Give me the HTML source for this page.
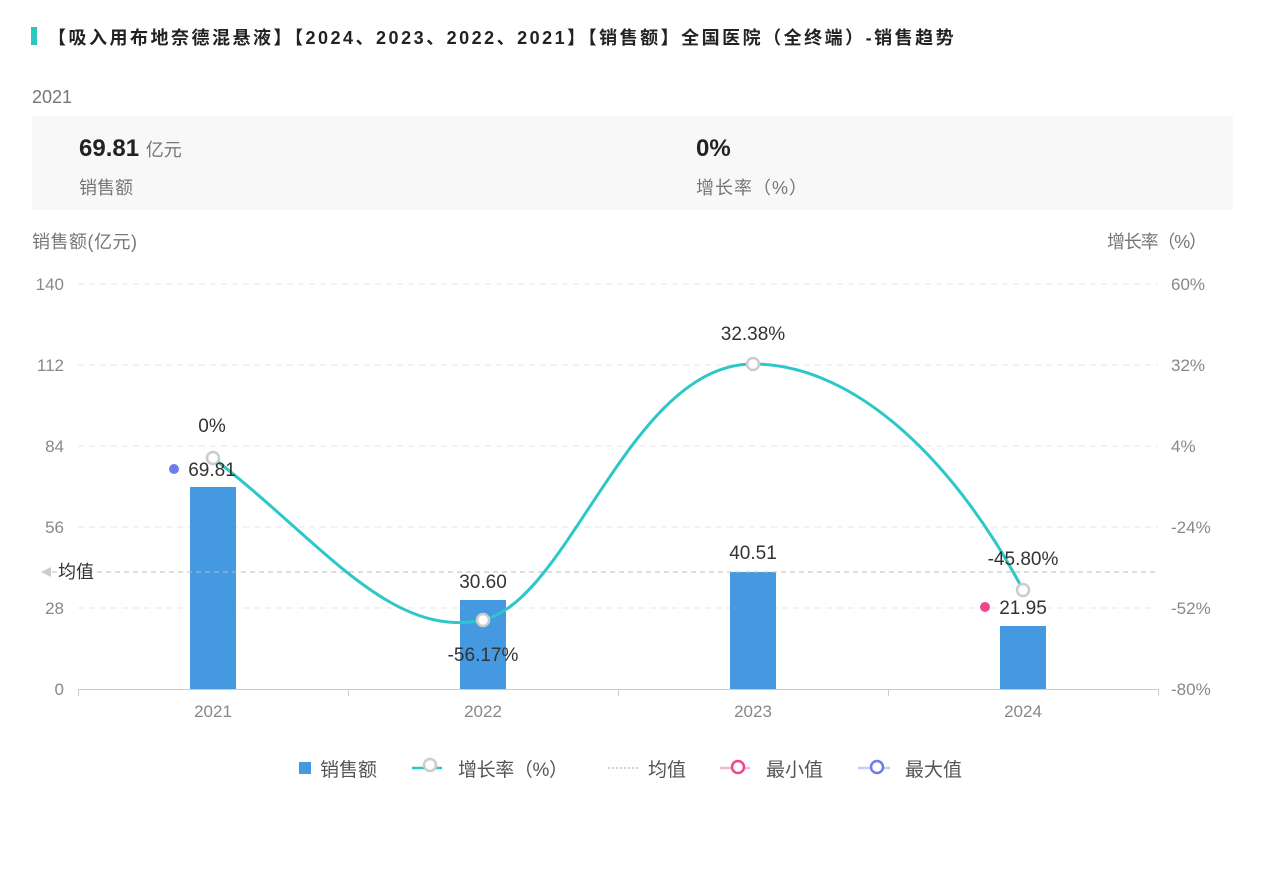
<!DOCTYPE html>
<html><head><meta charset="utf-8"><style>
body{margin:0;width:1265px;height:869px;background:#fff;font-family:"Liberation Sans","Noto Sans CJK SC",sans-serif;position:relative;overflow:hidden}
.a{position:absolute;white-space:nowrap}
</style></head><body>
<div class="a" style="left:31px;top:27px;width:6px;height:18px;background:#2ec7c0"></div>
<div class="a" style="left:48px;top:24px;font-size:18px;font-weight:bold;color:#222;letter-spacing:2.5px">【吸入用布地奈德混悬液】【2024、2023、2022、2021】【销售额】全国医院（全终端）-销售趋势</div>
<div class="a" style="left:32px;top:87px;font-size:18px;color:#777">2021</div>
<div class="a" style="left:32px;top:116px;width:1201px;height:94px;background:#f8f8f8"></div>
<div class="a" style="left:79px;top:135px;font-size:24px;font-weight:bold;color:#222">69.81 <span style="font-size:18px;font-weight:normal;color:#777">亿元</span></div>
<div class="a" style="left:79px;top:174px;font-size:18px;color:#777">销售额</div>
<div class="a" style="left:696px;top:135px;font-size:24px;font-weight:bold;color:#222">0%</div>
<div class="a" style="left:696px;top:174px;font-size:18px;color:#777;letter-spacing:1px">增长率（%）</div>
<svg class="a" style="left:0;top:0" width="1265" height="869" font-family="Liberation Sans, Noto Sans CJK SC, sans-serif">
<g font-size="18" fill="#777">
<text x="32" y="248" textLength="105">销售额(亿元)</text>
<text x="1207" y="248" text-anchor="end" textLength="100">增长率（%）</text>
</g>
<g stroke="#e6e6e6" stroke-dasharray="6,5">
<line x1="78" x2="1158" y1="284" y2="284"/><line x1="78" x2="1158" y1="365" y2="365"/><line x1="78" x2="1158" y1="446" y2="446"/><line x1="78" x2="1158" y1="527" y2="527"/><line x1="78" x2="1158" y1="608" y2="608"/>
</g>
<g font-size="17" fill="#888" text-anchor="end">
<text x="64" y="290">140</text><text x="64" y="371">112</text><text x="64" y="452">84</text><text x="64" y="533">56</text><text x="64" y="614">28</text><text x="64" y="695">0</text>
</g>
<g font-size="17" fill="#888">
<text x="1171" y="290">60%</text><text x="1171" y="371">32%</text><text x="1171" y="452">4%</text><text x="1171" y="533">-24%</text><text x="1171" y="614">-52%</text><text x="1171" y="695">-80%</text>
</g>
<line x1="78" x2="1158" y1="689.5" y2="689.5" stroke="#ccc"/>
<g stroke="#ccc"><line x1="78.5" x2="78.5" y1="689" y2="696"/><line x1="348.5" x2="348.5" y1="689" y2="696"/><line x1="618.5" x2="618.5" y1="689" y2="696"/><line x1="888.5" x2="888.5" y1="689" y2="696"/><line x1="1158.5" x2="1158.5" y1="689" y2="696"/></g>
<g font-size="17" fill="#888" text-anchor="middle">
<text x="213" y="717">2021</text><text x="483" y="717">2022</text><text x="753" y="717">2023</text><text x="1023" y="717">2024</text>
</g>
<g fill="#4599e0">
<rect x="190" y="487" width="46" height="202"/>
<rect x="460" y="600" width="46" height="89"/>
<rect x="730" y="572" width="46" height="117"/>
<rect x="1000" y="626" width="46" height="63"/>
</g>
<line x1="52" x2="1158" y1="572" y2="572" stroke="#bbb" stroke-dasharray="5,4"/>
<path d="M41,572 L51,567 L51,577Z" fill="#ccc"/>
<text x="58" y="578" font-size="18" fill="#333">均值</text>
<path d="M213,458 C320,540 390,640 483,620 C570,600 630,364 753,364 C860,364 960,470 1023,590" fill="none" stroke="#2ec7c9" stroke-width="3"/>
<g fill="#fff" stroke="#ccc" stroke-width="2.5">
<circle cx="213" cy="458" r="6"/><circle cx="483" cy="620" r="6"/><circle cx="753" cy="364" r="6"/><circle cx="1023" cy="590" r="6"/>
</g>
<circle cx="174" cy="469" r="5" fill="#6f7de8"/>
<circle cx="985" cy="607" r="5" fill="#f0468f"/>
<g font-size="19" fill="#333" text-anchor="middle">
<text x="212" y="432">0%</text>
<text x="212" y="476">69.81</text>
<text x="483" y="588">30.60</text>
<text x="753" y="559">40.51</text>
<text x="753" y="340">32.38%</text>
<text x="483" y="661">-56.17%</text>
<text x="1023" y="565">-45.80%</text>
<text x="1023" y="614">21.95</text>
</g>
<g font-size="19" fill="#555">
<rect x="299" y="762" width="12" height="12" fill="#4599e0"/>
<text x="320" y="776">销售额</text>
<line x1="412" x2="442" y1="768" y2="768" stroke="#2ec7c9" stroke-width="2.5"/>
<circle cx="430" cy="765" r="6" fill="#fff" stroke="#ccc" stroke-width="2.5"/>
<text x="458" y="776" textLength="110">增长率（%）</text>
<line x1="608" x2="640" y1="768" y2="768" stroke="#aaa" stroke-dasharray="2,2"/>
<text x="648" y="776">均值</text>
<line x1="720" x2="750" y1="768" y2="768" stroke="#f4b8cf" stroke-width="2.5"/>
<circle cx="738" cy="767" r="6" fill="#fff" stroke="#f0468f" stroke-width="2.5"/>
<text x="766" y="776">最小值</text>
<line x1="858" x2="890" y1="768" y2="768" stroke="#c7cdf5" stroke-width="2.5"/>
<circle cx="877" cy="767" r="6" fill="#fff" stroke="#6f7de8" stroke-width="2.5"/>
<text x="905" y="776">最大值</text>
</g>
</svg>
</body></html>
